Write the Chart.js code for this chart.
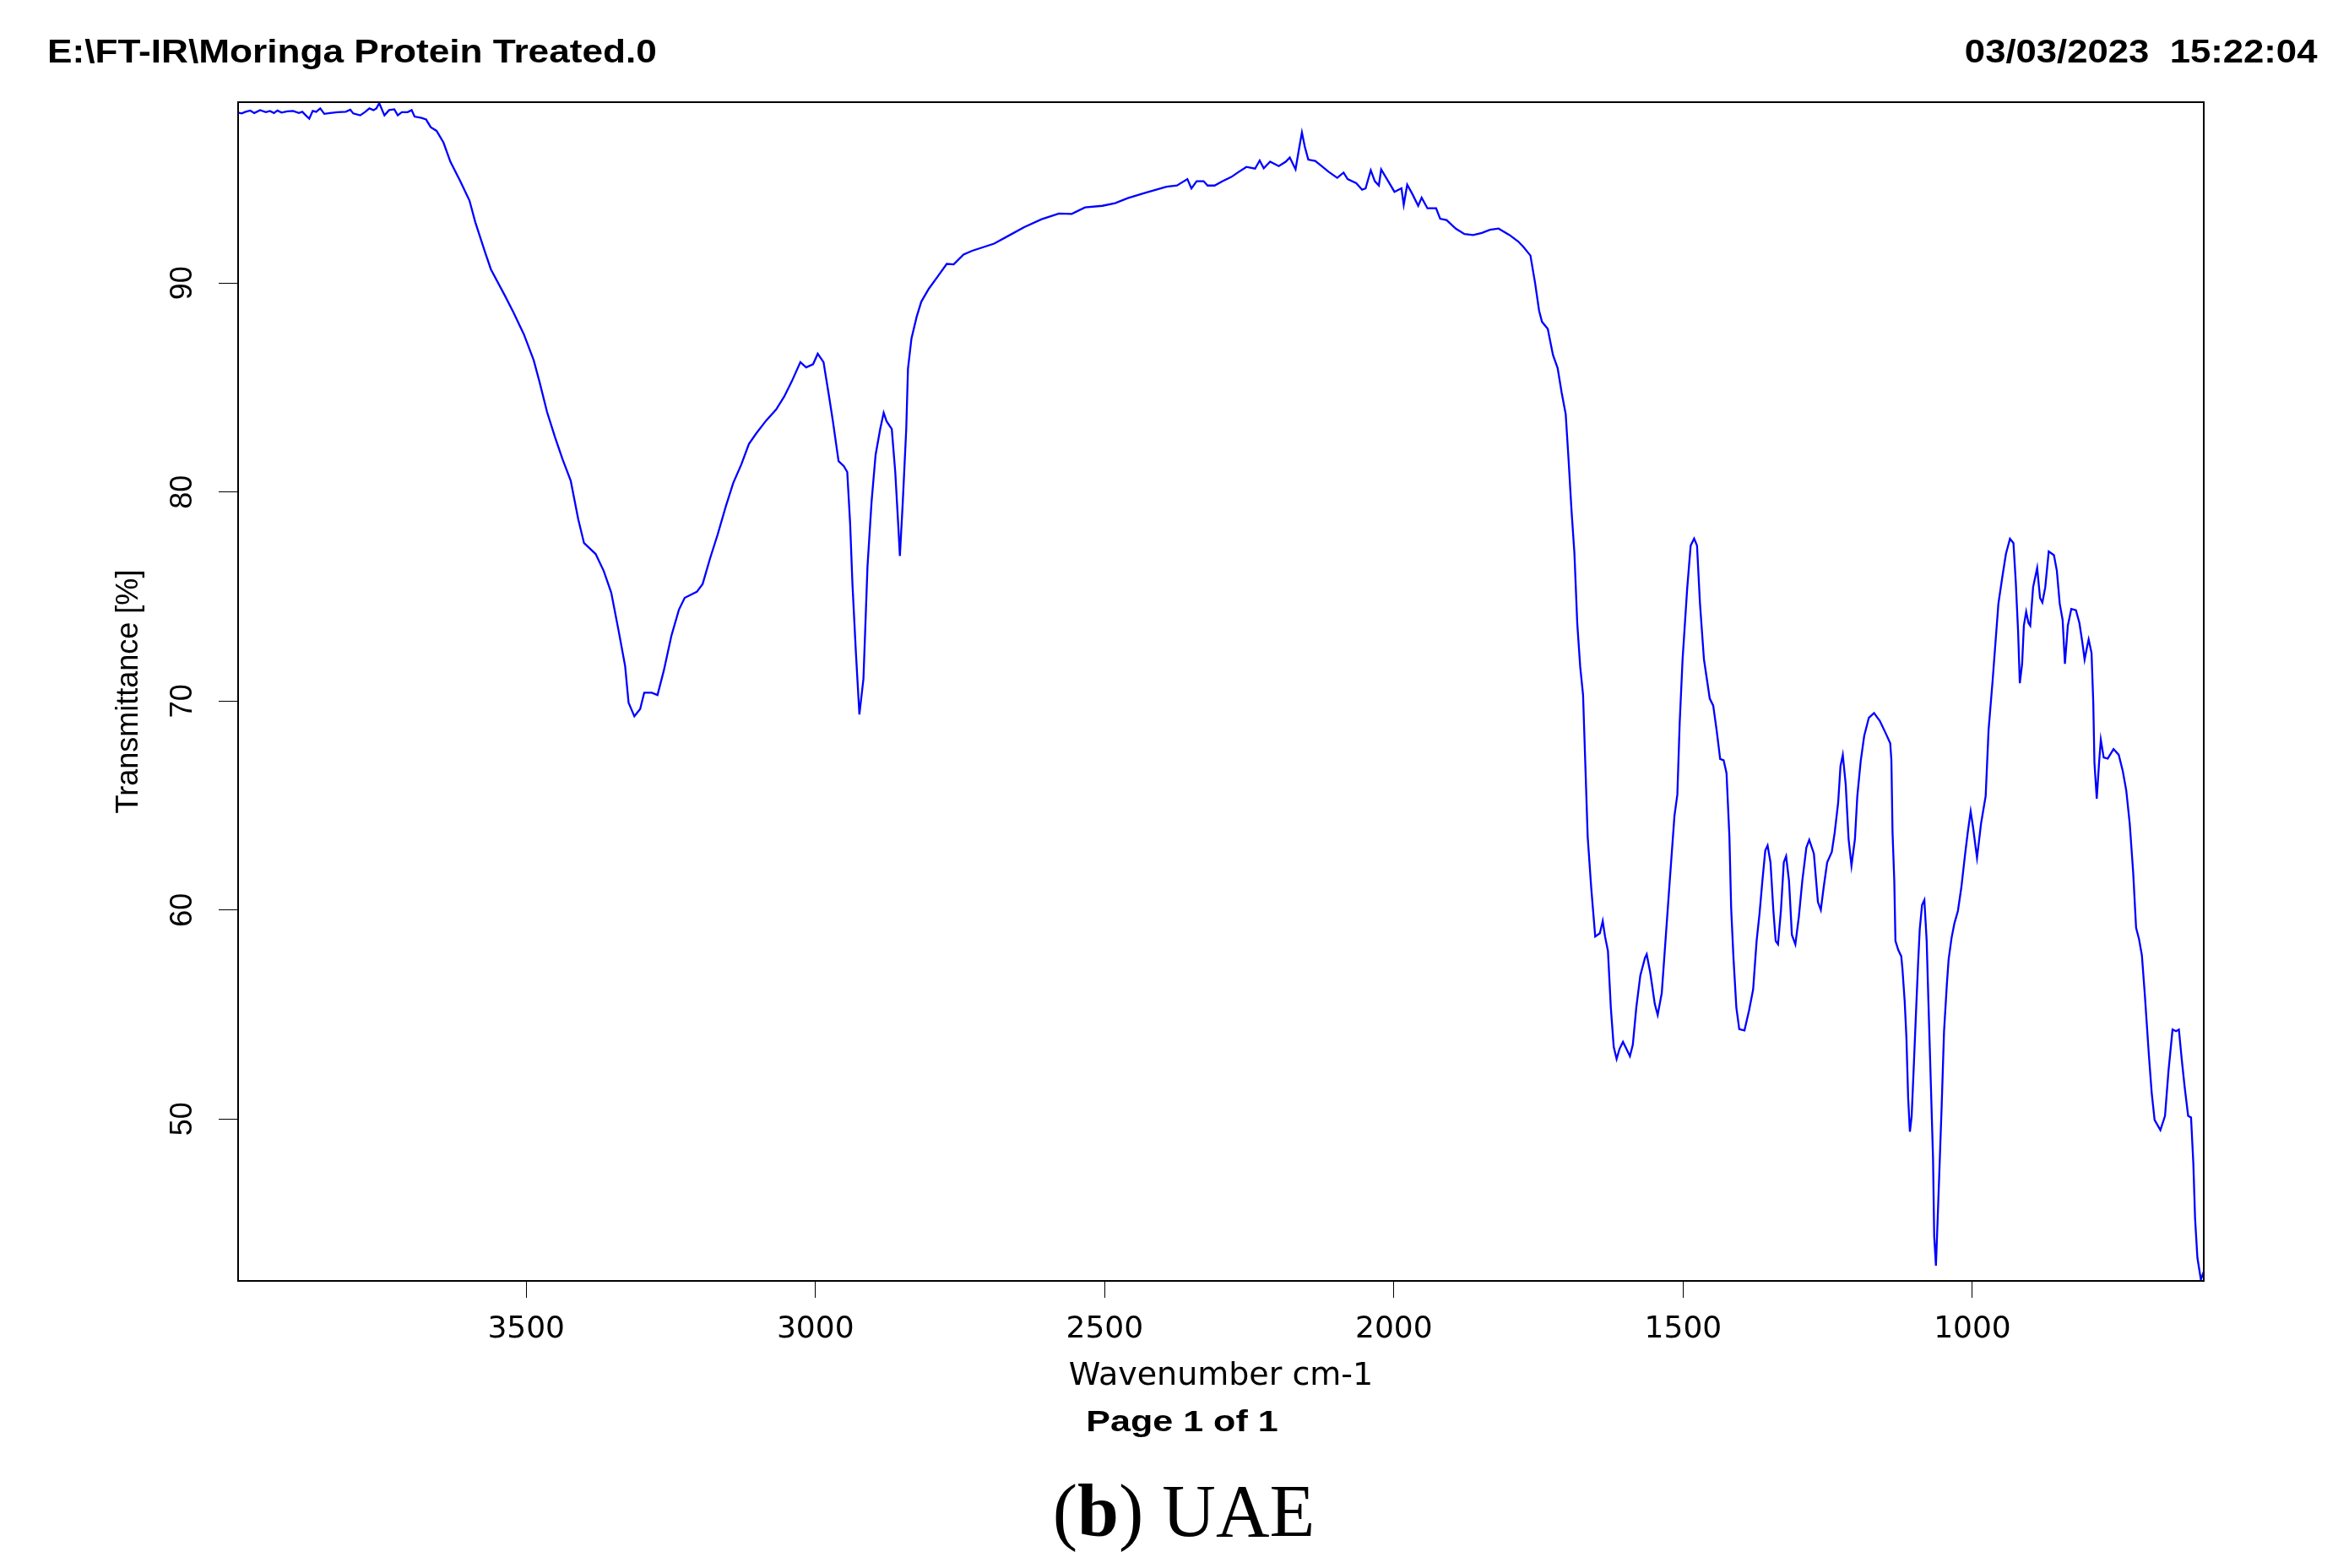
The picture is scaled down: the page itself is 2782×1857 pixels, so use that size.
<!DOCTYPE html>
<html>
<head>
<meta charset="utf-8">
<title>Moringa Protein Treated - FT-IR</title>
<script src="https://cdn.jsdelivr.net/npm/chart.js@4.4.0/dist/chart.umd.min.js"></script>
<style>
  html, body { margin: 0; padding: 0; background: #fff; }
  #pagina { position: relative; width: 2782px; height: 1857px; overflow: hidden; }
  #grafico { position: absolute; left: 0; top: 0; width: 2782px; height: 1857px; }
  .texto { position: absolute; white-space: pre; line-height: 1; color: #000; }
  #arquivo { left: 56px; top: 40px; font: bold 38px "Liberation Sans", Arial, sans-serif; transform-origin: left top; transform: scaleX(1.163); }
  #data { right: 38px; top: 40px; font: bold 38px "Liberation Sans", Arial, sans-serif; transform-origin: right top; transform: scaleX(1.149); }
  #pag { left: 1400px; top: 1663px; font: bold 35px "Liberation Sans", Arial, sans-serif; transform: translateX(-50%) scaleX(1.23); }
  #rotulo { left: 1402px; top: 1739px; font: 88px "Liberation Serif", "Times New Roman", serif; transform: translateX(-50%); }
</style>
</head>
<body>
<div id="pagina">
  <canvas id="grafico" width="2782" height="1857"></canvas>
  <div class="texto" id="arquivo">E:\FT-IR\Moringa Protein Treated.0</div>
  <div class="texto" id="data">03/03/2023  15:22:04</div>
  <div class="texto" id="pag">Page 1 of 1</div>
  <div class="texto" id="rotulo">(<b>b</b>) UAE</div>
</div>
<script>
// espectro (cm-1 / %T)
const wavenumbers = [
  3998, 3992, 3985, 3977, 3970, 3960, 3950, 3943, 3936, 3930, 3923, 3913, 3903, 3893, 3887, 3881, 3875, 3869, 3863, 3856,
  3849, 3839, 3826, 3812, 3804, 3799, 3787, 3779, 3771, 3764, 3759, 3754, 3745, 3737, 3728, 3722, 3715, 3705, 3698, 3693,
  3681, 3673, 3665, 3655, 3643, 3631, 3614, 3598, 3588, 3571, 3561, 3537, 3522, 3504, 3487, 3477, 3464, 3450, 3437, 3423,
  3410, 3400, 3380, 3366, 3353, 3340, 3329, 3323, 3313, 3303, 3296, 3283, 3273, 3262, 3249, 3236, 3226, 3205, 3195, 3182,
  3169, 3155, 3142, 3128, 3115, 3102, 3085, 3068, 3054, 3041, 3026, 3016, 3004, 2996, 2986, 2977, 2970, 2960, 2951, 2945,
  2940, 2936, 2930, 2924, 2917, 2910, 2903, 2896, 2888, 2882, 2877, 2868, 2862, 2857, 2854, 2849, 2843, 2840, 2834, 2825,
  2817, 2804, 2788, 2773, 2761, 2744, 2729, 2691, 2668, 2639, 2609, 2579, 2557, 2534, 2504, 2482, 2460, 2430, 2393, 2375,
  2357, 2350, 2341, 2329, 2322, 2310, 2296, 2281, 2270, 2255, 2240, 2232, 2225, 2214, 2199, 2187, 2180, 2170, 2164, 2159,
  2154, 2148, 2136, 2125, 2113, 2098, 2087, 2080, 2065, 2055, 2049, 2040, 2033, 2026, 2022, 2012, 1999, 1987, 1983, 1977,
  1968, 1958, 1952, 1942, 1927, 1920, 1909, 1893, 1878, 1863, 1848, 1834, 1819, 1800, 1785, 1776, 1764, 1756, 1749, 1744,
  1734, 1725, 1717, 1710, 1703, 1698, 1693, 1688, 1683, 1678, 1673, 1669, 1665, 1659, 1654, 1652, 1644, 1639, 1635, 1630,
  1625, 1620, 1615, 1610, 1604, 1598, 1592, 1587, 1581, 1574, 1566, 1563, 1557, 1549, 1544, 1537, 1530, 1523, 1515, 1510,
  1506, 1501, 1493, 1487, 1481, 1476, 1471, 1464, 1454, 1448, 1442, 1436, 1430, 1425, 1420, 1417, 1413, 1408, 1403, 1394,
  1386, 1379, 1373, 1368, 1363, 1358, 1354, 1349, 1344, 1340, 1336, 1331, 1326, 1322, 1317, 1312, 1306, 1300, 1294, 1287,
  1282, 1274, 1267, 1262, 1257, 1251, 1243, 1238, 1232, 1228, 1224, 1219, 1214, 1209, 1203, 1199, 1193, 1187, 1179, 1170,
  1160, 1150, 1142, 1140, 1138, 1135, 1133, 1128, 1123, 1121, 1117, 1114, 1111, 1108, 1105, 1101, 1098, 1094, 1091, 1087,
  1083, 1079, 1076, 1072, 1068, 1066, 1063, 1060, 1057, 1053, 1049, 1044, 1041, 1036, 1031, 1025, 1019, 1013, 1008, 1003,
  999, 992, 985, 977, 972, 965, 960, 955, 948, 942, 935, 929, 925, 921, 918, 914, 911, 907, 903, 900,
  895, 888, 883, 879, 874, 868, 859, 854, 849, 844, 840, 835, 829, 821, 815, 810, 806, 802, 799, 794,
  791, 789, 785, 781, 778, 773, 766, 756, 747, 740, 734, 728, 722, 717, 712, 707, 702, 695, 690, 685,
  675, 667, 661, 654, 648, 643, 638, 633, 627, 622, 618, 615, 611, 605, 600
];
const transmittance = [
  98.16, 98.12, 98.20, 98.26, 98.14, 98.28, 98.18, 98.24, 98.14, 98.26, 98.16, 98.22, 98.24, 98.14, 98.20, 98.03, 97.87, 98.24, 98.20, 98.36,
  98.10, 98.14, 98.18, 98.20, 98.30, 98.12, 98.03, 98.18, 98.36, 98.28, 98.36, 98.61, 98.03, 98.28, 98.32, 98.03, 98.18, 98.18, 98.28, 97.97,
  97.91, 97.83, 97.46, 97.29, 96.73, 95.81, 94.88, 93.95, 92.92, 91.47, 90.66, 89.41, 88.60, 87.55, 86.31, 85.28, 83.84, 82.61, 81.56, 80.54,
  78.70, 77.56, 77.04, 76.23, 75.19, 73.33, 71.68, 69.92, 69.27, 69.62, 70.40, 70.40, 70.29, 71.47, 73.12, 74.37, 74.94, 75.23, 75.60, 76.84,
  77.97, 79.31, 80.44, 81.33, 82.30, 82.82, 83.43, 83.95, 84.57, 85.29, 86.22, 85.97, 86.12, 86.62, 86.22, 84.68, 83.43, 81.48, 81.25, 80.96,
  78.49, 75.60, 72.30, 69.36, 71.06, 76.43, 79.52, 81.78, 83.02, 83.80, 83.39, 83.02, 80.96, 78.50, 76.94, 79.52, 83.02, 85.91, 87.35, 88.39,
  89.11, 89.73, 90.34, 90.92, 90.90, 91.37, 91.55, 91.89, 92.24, 92.68, 93.06, 93.33, 93.31, 93.62, 93.70, 93.83, 94.07, 94.32, 94.61, 94.67,
  94.98, 94.53, 94.88, 94.88, 94.67, 94.67, 94.88, 95.08, 95.29, 95.56, 95.48, 95.87, 95.50, 95.81, 95.60, 95.81, 96.01, 95.45, 96.43, 97.21,
  96.53, 95.91, 95.85, 95.60, 95.33, 95.04, 95.29, 94.98, 94.78, 94.47, 94.53, 95.40, 94.88, 94.67, 95.44, 94.98, 94.37, 94.54, 93.75, 94.71,
  94.26, 93.70, 94.09, 93.58, 93.58, 93.08, 93.02, 92.61, 92.35, 92.30, 92.40, 92.55, 92.61, 92.30, 91.99, 91.73, 91.32, 90.02, 88.68, 88.15,
  87.81, 86.56, 85.94, 84.76, 83.73, 81.52, 79.14, 77.10, 73.70, 71.66, 70.29, 66.89, 63.50, 61.10, 59.41, 58.73, 58.89, 59.47, 58.73, 58.04,
  55.33, 53.45, 52.87, 53.35, 53.69, 53.35, 53.00, 53.55, 55.33, 56.87, 57.71, 57.88, 57.03, 55.50, 54.98, 56.02, 58.73, 61.45, 64.51, 65.53,
  68.93, 71.98, 75.39, 77.44, 77.78, 77.44, 74.71, 71.99, 70.12, 69.78, 68.58, 67.23, 67.17, 66.55, 63.50, 60.09, 57.71, 55.33, 54.30, 54.24,
  55.20, 56.20, 58.52, 59.81, 61.40, 62.85, 63.09, 62.28, 59.96, 58.52, 58.36, 59.96, 62.28, 62.57, 61.40, 58.81, 58.36, 59.67, 61.40, 62.99,
  63.36, 62.70, 60.38, 60.00, 61.10, 62.28, 62.78, 63.71, 65.15, 66.89, 67.42, 66.02, 63.40, 62.12, 63.40, 65.42, 67.14, 68.33, 69.20, 69.43,
  69.05, 68.47, 67.98, 67.17, 63.71, 61.40, 58.52, 58.08, 57.79, 57.22, 55.62, 53.88, 50.99, 49.39, 50.12, 52.71, 54.73, 57.35, 59.08, 60.24,
  60.48, 58.52, 55.62, 51.86, 48.10, 44.38, 42.98, 45.23, 47.54, 50.69, 54.18, 56.50, 57.65, 58.66, 59.37, 59.96, 61.10, 62.57, 63.71, 64.72,
  64.00, 62.50, 64.14, 65.46, 68.62, 70.98, 72.83, 74.66, 75.98, 77.04, 77.77, 77.56, 75.72, 73.35, 70.85, 71.78, 73.61, 74.27, 73.74, 73.61,
  75.45, 76.37, 74.93, 74.72, 75.45, 77.16, 76.98, 76.24, 74.66, 73.88, 71.78, 73.61, 74.41, 74.35, 73.74, 72.83, 71.99, 72.56, 72.95, 72.30,
  69.93, 67.05, 65.33, 67.04, 68.15, 67.30, 67.25, 67.70, 67.43, 66.65, 65.72, 64.14, 61.78, 59.15, 58.62, 57.84, 55.99, 53.10, 51.25, 49.95,
  49.47, 50.15, 52.30, 54.28, 54.20, 54.28, 52.83, 51.52, 50.15, 50.07, 47.85, 45.22, 43.36, 42.31, 42.70
];
const xTicks = [3500, 3000, 2500, 2000, 1500, 1000];
const yTicks = [50, 60, 70, 80, 90];

// moldura preta em volta da area do grafico
const moldura = {
  id: 'moldura',
  afterDraw(chart) {
    const {ctx, chartArea: a} = chart;
    ctx.save();
    ctx.strokeStyle = '#000';
    ctx.lineWidth = 2;
    ctx.strokeRect(a.left, a.top, a.right - a.left, a.bottom - a.top);
    ctx.restore();
  }
};

const pontos = wavenumbers.map((w, i) => ({x: w, y: transmittance[i]}));

new Chart(document.getElementById('grafico').getContext('2d'), {
  type: 'line',
  data: {
    datasets: [{
      data: pontos,
      borderColor: '#0000ff',
      borderWidth: 2.3,
      pointRadius: 0,
      tension: 0,
      fill: false
    }]
  },
  options: {
    responsive: false,
    devicePixelRatio: 1,
    animation: false,
    layout: { padding: { left: 0, top: 121, right: 172, bottom: 0 } },
    plugins: { legend: { display: false }, tooltip: { enabled: false } },
    scales: {
      x: {
        type: 'linear',
        reverse: true,
        min: 600,
        max: 3998,
        afterBuildTicks: (scale) => { scale.ticks = xTicks.map(v => ({value: v})); },
        afterFit: (scale) => { scale.height = 340; },
        border: { display: false },
        grid: { drawOnChartArea: false, drawTicks: true, tickLength: 20, color: '#000', lineWidth: 1 },
        ticks: {
          color: '#000',
          padding: 16,
          maxRotation: 0,
          font: { family: 'DejaVu Sans', size: 36 },
          callback: (v) => String(v)
        },
        title: {
          display: true,
          text: 'Wavenumber cm-1',
          color: '#000',
          font: { family: 'DejaVu Sans', size: 38 },
          padding: { top: 0, bottom: 204 }
        }
      },
      y: {
        type: 'linear',
        min: 42.25,
        max: 98.66,
        afterBuildTicks: (scale) => { scale.ticks = yTicks.map(v => ({value: v})); },
        afterFit: (scale) => { scale.width = 282; },
        border: { display: false },
        grid: { drawOnChartArea: false, drawTicks: true, tickLength: 23, color: '#000', lineWidth: 1 },
        ticks: {
          color: '#000',
          padding: 22,
          minRotation: 90,
          maxRotation: 90,
          crossAlign: 'center',
          font: { family: 'Liberation Sans', size: 36 },
          callback: (v) => String(v)
        },
        title: {
          display: true,
          text: 'Transmittance [%]',
          color: '#000',
          font: { family: 'Liberation Sans', size: 36 },
          padding: { top: 131, bottom: 0 }
        }
      }
    }
  },
  plugins: [moldura]
});
</script>
</body>
</html>
